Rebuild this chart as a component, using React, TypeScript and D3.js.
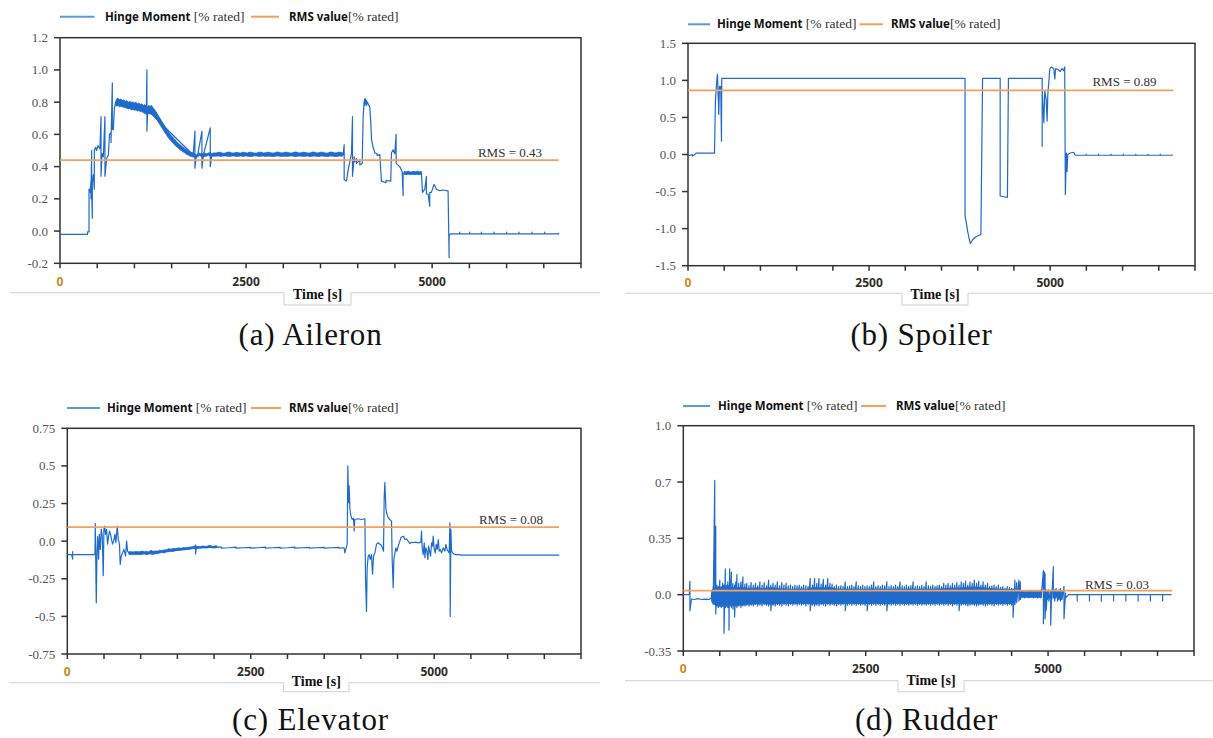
import React from 'react';
import * as d3 from 'd3';

// ---------- DATA ----------
// Line series rows: [time s, value, value, ...] (successive values at the same time)
// Band rows (dense noisy stretches drawn as a filled envelope): [time s, high, low]
const timeTickValues = [0, 500, 1000, 1500, 2000, 2500, 3000, 3500, 4000, 4500, 5000, 5500, 6000, 6500, 7000];
const timeTickLabels = [0, 2500, 5000];
const rmsEndTime = 6700;

const aileronYTicks = [-0.2, 0, 0.2, 0.4, 0.6, 0.8, 1.0, 1.2];
const aileronYLabels = ['-0.2', '0.0', '0.2', '0.4', '0.6', '0.8', '1.0', '1.2'];
const spoilerYTicks = [-1.5, -1.0, -0.5, 0, 0.5, 1.0, 1.5];
const spoilerYLabels = ['-1.5', '-1.0', '-0.5', '0.0', '0.5', '1.0', '1.5'];
const elevatorYTicks = [-0.75, -0.5, -0.25, 0, 0.25, 0.5, 0.75];
const elevatorYLabels = ['-0.75', '-0.5', '-0.25', '0.0', '0.25', '0.5', '0.75'];
const rudderYTicks = [-0.35, 0, 0.35, 0.7, 1.05];
const rudderYLabels = ['-0.35', '0.0', '0.35', '0.7', '1.0'];

const rmsValues = { aileron: 0.44, spoiler: 0.865, elevator: 0.093, rudder: 0.025 };
const rmsLabels = { aileron: 'RMS = 0.43', spoiler: 'RMS = 0.89', elevator: 'RMS = 0.08', rudder: 'RMS = 0.03' };

const aileronHinge: number[][] = [
  [0, -0.02], [370, -0.02, -0.005], [390, -0.005, 0.26], [405, 0.24], [416, 0.31, 0.2], [425, 0.5, 0.26],
  [434, 0.08, 0.3], [448, 0.35], [461, 0.26, 0.5], [479, 0.52], [492, 0.5], [510, 0.53], [537, 0.51],
  [551, 0.71, 0.34], [565, 0.48], [582, 0.46], [604, 0.71, 0.34], [627, 0.45], [649, 0.47], [665, 0.6],
  [685, 0.61, 0.55], [703, 0.92, 0.63], [716, 0.63], [730, 0.76], [747, 0.8], [1160, 0.75], [1168, 1.0, 0.62],
  [1178, 0.75], [1790, 0.472], [1813, 0.62, 0.39], [1830, 0.465], [1849, 0.47], [1907, 0.62, 0.39],
  [1925, 0.47], [2019, 0.64, 0.4], [2040, 0.475], [3790, 0.475], [3804, 0.475], [3818, 0.536, 0.32],
  [3849, 0.31], [3872, 0.38], [3894, 0.43], [3916, 0.48], [3930, 0.71, 0.34], [3952, 0.46], [3961, 0.43],
  [3983, 0.45, 0.42], [4028, 0.44, 0.41], [4060, 0.42], [4073, 0.71], [4086, 0.8], [4095, 0.82, 0.78],
  [4104, 0.82, 0.79], [4118, 0.81, 0.78], [4131, 0.8], [4150, 0.78], [4162, 0.77], [4176, 0.67], [4185, 0.57],
  [4207, 0.52], [4230, 0.485], [4260, 0.48, 0.47], [4297, 0.475], [4319, 0.31], [4380, 0.3, 0.315],
  [4444, 0.31], [4453, 0.485], [4476, 0.505], [4498, 0.48], [4516, 0.6, 0.42], [4565, 0.4], [4597, 0.37],
  [4610, 0.22, 0.36], [4623, 0.36], [4856, 0.36], [4870, 0.24], [4901, 0.26], [4923, 0.34, 0.23], [4946, 0.23],
  [4968, 0.155, 0.24], [4990, 0.24], [5026, 0.29], [5057, 0.26], [5102, 0.25], [5150, 0.255], [5214, 0.25],
  [5228, -0.165, -0.03], [5237, -0.02], [5250, -0.017], [5371, -0.017, -0.006, -0.017], [5505, -0.017, -0.006, -0.017],
  [5662, -0.017, -0.006, -0.017], [5832, -0.017, -0.006, -0.017], [6000, -0.017, -0.006, -0.017],
  [6166, -0.017, -0.006, -0.017], [6342, -0.017, -0.006, -0.017], [6512, -0.017, -0.006, -0.017], [6700, -0.017, -0.01],
];

const aileronBands: number[][][] = [
  [
    [747, 0.8, 0.78], [760, 0.82, 0.775], [780, 0.825, 0.78], [800, 0.815, 0.77], [820, 0.82, 0.775], [840, 0.81, 0.77],
    [860, 0.815, 0.768], [880, 0.805, 0.765], [900, 0.81, 0.762], [920, 0.8, 0.758], [940, 0.805, 0.76],
    [960, 0.798, 0.752], [980, 0.802, 0.755], [1000, 0.795, 0.75], [1020, 0.8, 0.752], [1040, 0.79, 0.745],
    [1060, 0.795, 0.748], [1080, 0.785, 0.74], [1100, 0.79, 0.742], [1120, 0.78, 0.735], [1140, 0.785, 0.73],
    [1160, 0.775, 0.725], [1175, 0.77, 0.725], [1190, 0.78, 0.73], [1210, 0.775, 0.725],
    [1230, 0.78, 0.73], [1250, 0.765, 0.72], [1270, 0.755, 0.71], [1290, 0.74, 0.7], [1310, 0.725, 0.685],
    [1330, 0.71, 0.67], [1350, 0.695, 0.655], [1370, 0.68, 0.64], [1390, 0.665, 0.625], [1410, 0.65, 0.61],
    [1430, 0.635, 0.597], [1450, 0.62, 0.583], [1470, 0.607, 0.572], [1490, 0.595, 0.56], [1510, 0.585, 0.55],
    [1530, 0.575, 0.54], [1550, 0.565, 0.53], [1570, 0.555, 0.522], [1590, 0.545, 0.515], [1610, 0.538, 0.505],
    [1630, 0.53, 0.5], [1650, 0.522, 0.493], [1670, 0.515, 0.487], [1690, 0.508, 0.48], [1710, 0.502, 0.474],
    [1730, 0.497, 0.47], [1750, 0.49, 0.465], [1770, 0.487, 0.462], [1790, 0.485, 0.46], [1813, 0.48, 0.458],
    [1830, 0.47, 0.455], [1849, 0.48, 0.46], [1870, 0.485, 0.47], [1890, 0.48, 0.465], [1907, 0.482, 0.462],
    [1925, 0.48, 0.46], [1947, 0.485, 0.465], [1970, 0.48, 0.465], [1995, 0.485, 0.47], [2019, 0.487, 0.465],
    [2040, 0.48, 0.465], [2059, 0.485, 0.465], [2100, 0.485, 0.465], [2130, 0.49, 0.466], [2160, 0.487, 0.463],
    [2190, 0.483, 0.466], [2220, 0.484, 0.466], [2250, 0.49, 0.465], [2280, 0.49, 0.462], [2310, 0.484, 0.466],
    [2340, 0.485, 0.466], [2370, 0.489, 0.463], [2400, 0.486, 0.464], [2430, 0.484, 0.466], [2460, 0.49, 0.463],
    [2490, 0.486, 0.466], [2520, 0.485, 0.465], [2550, 0.49, 0.463], [2580, 0.488, 0.462], [2610, 0.484, 0.467],
    [2640, 0.484, 0.466], [2670, 0.489, 0.463], [2700, 0.49, 0.465], [2730, 0.485, 0.466], [2760, 0.486, 0.463],
    [2790, 0.49, 0.465], [2820, 0.487, 0.465], [2850, 0.484, 0.463], [2880, 0.485, 0.462], [2910, 0.49, 0.466],
    [2940, 0.49, 0.466], [2970, 0.485, 0.463], [3000, 0.486, 0.464], [3030, 0.49, 0.465], [3060, 0.488, 0.463],
    [3090, 0.484, 0.466], [3120, 0.485, 0.466], [3150, 0.49, 0.463], [3180, 0.49, 0.462], [3210, 0.485, 0.466],
    [3240, 0.486, 0.465], [3270, 0.49, 0.463], [3300, 0.487, 0.464], [3330, 0.484, 0.466], [3360, 0.485, 0.462],
    [3390, 0.49, 0.465], [3420, 0.49, 0.466], [3450, 0.485, 0.463], [3480, 0.486, 0.463], [3510, 0.49, 0.466],
    [3540, 0.488, 0.465], [3570, 0.484, 0.463], [3600, 0.484, 0.462], [3630, 0.49, 0.466], [3660, 0.49, 0.465],
    [3690, 0.485, 0.463], [3720, 0.486, 0.463], [3750, 0.49, 0.466], [3780, 0.488, 0.465], [3800, 0.485, 0.466],
  ],
  [
    [4623, 0.37, 0.352], [4650, 0.368, 0.35], [4680, 0.372, 0.352], [4710, 0.366, 0.35], [4740, 0.37, 0.352],
    [4770, 0.368, 0.35], [4800, 0.372, 0.352], [4830, 0.368, 0.35], [4856, 0.37, 0.352],
  ],
];

const spoilerHinge: number[][] = [
  [0, -0.02], [30, -0.01], [60, 0.0, -0.02], [80, -0.01], [114, 0.018], [366, 0.018, 0.045], [379, 0.72],
  [398, 1.01], [407, 1.08], [416, 0.81], [425, 0.54], [434, 0.92], [443, 0.87], [452, 0.92], [462, 0.18],
  [466, 1.027], [3825, 1.027, -0.83], [3839, -0.9], [3862, -1.04], [3885, -1.15], [3898, -1.2], [3930, -1.15],
  [3976, -1.11], [4044, -1.08], [4053, -0.25], [4067, 1.027], [4310, 1.027, -0.56], [4410, -0.58],
  [4424, 1.027], [4890, 1.027, 0.11, 0.88], [4913, 0.43], [4926, 0.86], [4945, 0.74], [4958, 0.45],
  [4968, 0.81], [4981, 0.97], [4995, 1.15], [5013, 1.18], [5050, 1.16], [5064, 1.02], [5077, 1.16],
  [5118, 1.14], [5141, 1.12], [5164, 1.16], [5187, 1.13], [5201, 1.18], [5210, -0.54], [5224, 0.02],
  [5233, -0.23], [5242, 0.0], [5278, 0.02], [5324, 0.03], [5347, -0.01], [5498, -0.01, 0.005, -0.01],
  [5667, -0.01, 0.005, -0.01], [5840, -0.01, 0.005, -0.01], [6010, -0.01, 0.005, -0.01], [6183, -0.01, 0.005, -0.01],
  [6352, -0.01, 0.005, -0.01], [6521, -0.01, 0.005, -0.01], [6686, -0.01, 0.0],
];
const spoilerBands: number[][][] = [];

const elevatorHinge: number[][] = [
  [0, -0.089], [59, -0.089], [73, -0.12, -0.07, -0.089], [377, -0.089], [381, 0.118], [395, -0.41], [404, -0.08],
  [413, 0.03], [426, -0.12], [436, 0.045], [449, -0.055], [463, 0.08], [476, 0.035], [490, -0.23], [499, 0.078],
  [508, 0.1], [522, 0.045], [535, 0.078], [549, -0.02], [563, 0.033], [576, 0.067], [590, 0.045], [603, 0.01],
  [617, -0.02], [631, 0.0], [649, 0.045], [662, -0.01], [681, 0.1], [694, 0.01], [703, 0.0], [712, -0.033],
  [721, -0.155], [735, -0.1], [753, -0.078], [771, -0.055], [794, -0.1], [808, 0.0], [821, -0.067], [839, -0.078],
  [1000, -0.078], [1300, -0.068], [1738, -0.042], [1747, -0.025, -0.085], [1760, -0.042], [2033, -0.038],
  [2100, -0.04, -0.046], [2200, -0.044], [2300, -0.04, -0.047], [2400, -0.044],
  [2500, -0.041, -0.046], [2600, -0.044], [2700, -0.04, -0.047], [2800, -0.044], [2900, -0.041, -0.046],
  [3000, -0.044], [3100, -0.04, -0.047], [3200, -0.044], [3300, -0.041, -0.046], [3400, -0.044],
  [3500, -0.041, -0.046], [3600, -0.044], [3700, -0.042, -0.046], [3773, -0.044], [3782, -0.078],
  [3795, -0.055], [3814, -0.02], [3823, 0.5], [3832, 0.256], [3841, 0.367], [3850, 0.22], [3864, 0.167],
  [3882, 0.144], [3900, 0.153], [3909, 0.067], [3918, 0.144], [3964, 0.149], [4009, 0.144], [4055, 0.149],
  [4064, -0.256], [4077, -0.467], [4086, -0.178], [4100, -0.1], [4114, -0.089], [4127, -0.122], [4145, -0.089],
  [4159, -0.22], [4173, -0.1], [4191, -0.078], [4214, -0.02], [4236, -0.011], [4259, -0.02], [4282, -0.029],
  [4295, -0.044], [4309, -0.067], [4318, 0.289], [4327, 0.389], [4341, 0.222], [4350, 0.189], [4373, 0.156],
  [4395, 0.144], [4418, 0.133], [4427, -0.122], [4441, -0.31], [4450, -0.122], [4464, -0.078], [4477, -0.044],
  [4491, -0.067], [4509, -0.033], [4532, 0.0], [4545, 0.022], [4564, 0.029], [4582, 0.033], [4600, 0.011],
  [4623, 0.016], [4645, 0.0], [4668, -0.016], [4691, -0.007], [4714, -0.011], [4736, -0.007], [4782, -0.011],
  [4818, -0.007], [4827, 0.067], [4836, -0.044], [4850, -0.089], [4864, -0.011], [4873, -0.11], [4886, -0.044],
  [4900, -0.067], [4914, -0.122], [4923, -0.033], [4936, -0.067], [4950, -0.1], [4964, -0.011], [4977, -0.033],
  [4986, 0.033], [5000, -0.055], [5014, -0.078], [5027, -0.022], [5041, -0.055], [5055, 0.011], [5068, -0.067],
  [5082, -0.055], [5100, -0.078], [5123, -0.044], [5145, -0.067], [5159, -0.022], [5177, -0.06], [5191, -0.067],
  [5204, -0.078], [5214, 0.122], [5218, -0.5], [5227, 0.078], [5236, -0.067], [5259, -0.082], [5282, -0.089],
  [5350, -0.089], [5359, -0.093], [6704, -0.093],
];

const elevatorBands: number[][][] = [
  [
    [839, -0.07, -0.088], [870, -0.07, -0.09], [900, -0.072, -0.088], [930, -0.068, -0.09], [960, -0.07, -0.088],
    [990, -0.07, -0.09], [1020, -0.066, -0.087], [1050, -0.07, -0.085], [1080, -0.068, -0.09], [1110, -0.072, -0.086],
    [1140, -0.06, -0.085], [1170, -0.068, -0.088], [1200, -0.065, -0.084], [1230, -0.067, -0.083], [1261, -0.06, -0.078],
    [1290, -0.062, -0.076], [1320, -0.058, -0.078], [1350, -0.057, -0.072], [1380, -0.05, -0.07], [1410, -0.053, -0.068],
    [1443, -0.048, -0.068], [1480, -0.05, -0.063], [1510, -0.045, -0.062], [1550, -0.047, -0.06], [1590, -0.043, -0.058],
    [1624, -0.044, -0.056], [1660, -0.04, -0.055], [1700, -0.038, -0.05], [1738, -0.033, -0.05], [1780, -0.035, -0.048],
    [1806, -0.037, -0.048], [1850, -0.032, -0.045], [1890, -0.036, -0.046], [1942, -0.028, -0.042], [1980, -0.035, -0.045],
    [2033, -0.03, -0.045],
  ],
];

const rudderHinge: number[][] = [
  [0, 0.0], [82, 0.0], [91, 0.083, -0.1], [113, -0.027], [150, -0.03], [200, -0.025], [250, -0.03], [300, -0.028],
  [350, -0.03], [385, -0.02], [390, 0.02, -0.04], [410, 0.05, -0.06], [431, 0.71, -0.05], [445, 0.425, -0.12],
  [460, 0.06, -0.07], [480, 0.05, -0.08], [500, 0.09, -0.07], [520, 0.05, -0.08], [540, 0.07, -0.07],
  [558, 0.06, -0.24], [576, 0.16, -0.08], [595, 0.06, -0.07], [610, 0.08, -0.08], [626, 0.06, -0.22],
  [635, 0.16, -0.07], [658, 0.14, -0.08], [680, 0.07, -0.09], [703, 0.06, -0.14], [720, 0.08, -0.07],
  [735, 0.125, -0.08], [760, 0.07, -0.07], [790, 0.08, -0.08], [817, 0.11, -0.07], [845, 0.065, -0.07],
  [870, 0.07, -0.065], [900, 0.055, -0.07], [930, 0.075, -0.065], [960, 0.06, -0.07], [990, 0.07, -0.06],
  [1020, 0.055, -0.07], [1050, 0.08, -0.065], [1080, 0.06, -0.07], [1110, 0.075, -0.06], [1140, 0.055, -0.065],
  [1170, 0.09, -0.07], [1200, 0.06, -0.1], [1230, 0.07, -0.065], [1260, 0.06, -0.07], [1290, 0.08, -0.06],
  [1320, 0.055, -0.065], [1350, 0.075, -0.07], [1380, 0.06, -0.06], [1410, 0.07, -0.065], [1440, 0.055, -0.07],
  [1470, 0.06, -0.06], [1500, 0.05, -0.065], [1530, 0.06, -0.06], [1560, 0.055, -0.065], [1590, 0.06, -0.06],
  [1620, 0.05, -0.065], [1650, 0.06, -0.06], [1680, 0.055, -0.07], [1710, 0.05, -0.06], [1740, 0.1, -0.1],
  [1770, 0.06, -0.065], [1800, 0.1, -0.07], [1830, 0.07, -0.065], [1860, 0.1, -0.07], [1890, 0.065, -0.06],
  [1920, 0.095, -0.065], [1950, 0.06, -0.07], [1980, 0.1, -0.06], [2010, 0.07, -0.065], [2040, 0.065, -0.06],
  [2070, 0.05, -0.065], [2100, 0.06, -0.07], [2130, 0.05, -0.06], [2160, 0.055, -0.065], [2190, 0.05, -0.06],
  [2220, 0.08, -0.1], [2250, 0.05, -0.065], [2280, 0.055, -0.06], [2310, 0.06, -0.065], [2340, 0.05, -0.06],
  [2370, 0.08, -0.065], [2400, 0.055, -0.06], [2430, 0.05, -0.065], [2460, 0.06, -0.06], [2490, 0.05, -0.065],
  [2520, 0.055, -0.1], [2550, 0.05, -0.06], [2580, 0.06, -0.065], [2610, 0.08, -0.06], [2640, 0.05, -0.065],
  [2670, 0.055, -0.06], [2700, 0.05, -0.065], [2730, 0.06, -0.06], [2760, 0.055, -0.065], [2790, 0.08, -0.1],
  [2820, 0.05, -0.06], [2850, 0.055, -0.065], [2880, 0.05, -0.06], [2910, 0.06, -0.065], [2940, 0.05, -0.06],
  [2970, 0.08, -0.065], [3000, 0.055, -0.06], [3030, 0.05, -0.065], [3060, 0.06, -0.06], [3090, 0.05, -0.065],
  [3120, 0.055, -0.06], [3150, 0.08, -0.065], [3180, 0.05, -0.06], [3210, 0.055, -0.065], [3240, 0.05, -0.06],
  [3270, 0.06, -0.065], [3300, 0.05, -0.06], [3330, 0.08, -0.065], [3360, 0.055, -0.06], [3390, 0.05, -0.065],
  [3420, 0.06, -0.06], [3450, 0.05, -0.065], [3480, 0.055, -0.06], [3510, 0.06, -0.065], [3540, 0.05, -0.06],
  [3570, 0.07, -0.065], [3600, 0.06, -0.06], [3630, 0.07, -0.065], [3660, 0.055, -0.06], [3690, 0.07, -0.07],
  [3720, 0.06, -0.06], [3750, 0.075, -0.065], [3780, 0.06, -0.1], [3810, 0.08, -0.065], [3840, 0.07, -0.06],
  [3870, 0.085, -0.065], [3900, 0.06, -0.07], [3930, 0.08, -0.065], [3960, 0.07, -0.06], [3990, 0.09, -0.065],
  [4020, 0.07, -0.07], [4050, 0.085, -0.065], [4080, 0.06, -0.06], [4110, 0.08, -0.065], [4140, 0.06, -0.07],
  [4170, 0.07, -0.065], [4200, 0.05, -0.06], [4230, 0.055, -0.065], [4260, 0.06, -0.07], [4290, 0.05, -0.06],
  [4320, 0.06, -0.065], [4350, 0.045, -0.06], [4380, 0.05, -0.065], [4410, 0.04, -0.06], [4440, 0.05, -0.065],
  [4470, 0.045, -0.06], [4500, 0.04, -0.065], [4520, 0.035, -0.14], [4545, 0.09, -0.06], [4570, 0.075, -0.05],
  [4600, 0.09, -0.04], [4620, 0.08, -0.03], [4650, 0.02, -0.015], [4680, 0.015, -0.02], [4710, 0.02, -0.015],
  [4740, 0.015, -0.02], [4770, 0.02, -0.015], [4800, 0.015, -0.02], [4830, 0.02, -0.015], [4860, 0.015, -0.02],
  [4890, 0.02, -0.015], [4905, 0.03, -0.02], [4936, 0.15, -0.18], [4950, 0.14, -0.04], [4959, 0.13, -0.15],
  [4973, 0.03, -0.1], [4990, 0.02, -0.03], [5010, 0.03, -0.04], [5036, 0.02, -0.19], [5050, 0.03, -0.03],
  [5072, 0.175, -0.02], [5090, 0.03, -0.04], [5110, 0.04, -0.02], [5130, 0.02, -0.04], [5150, 0.03, -0.03],
  [5170, 0.04, -0.04], [5190, 0.02, -0.03], [5218, 0.05, -0.15], [5240, 0.01, -0.02], [5280, 0.0],
  [5399, 0.0, -0.04, 0.0], [5567, 0.0, -0.04, 0.0], [5730, 0.0, -0.04, 0.0], [5898, 0.0, -0.04, 0.0],
  [6066, 0.0, -0.04, 0.0], [6234, 0.0, -0.04, 0.0], [6402, 0.0, -0.04, 0.0], [6570, 0.0, -0.04, 0.0], [6692, 0.0],
];

const rudderBands: number[][][] = [
  [
    [395, 0.03, -0.05], [450, 0.045, -0.068], [520, 0.04, -0.072], [600, 0.048, -0.07], [700, 0.042, -0.068],
    [800, 0.045, -0.065], [900, 0.038, -0.06], [1000, 0.042, -0.058], [1100, 0.036, -0.057], [1200, 0.044, -0.06],
    [1300, 0.038, -0.056], [1400, 0.035, -0.055], [1500, 0.033, -0.055], [1600, 0.036, -0.054], [1700, 0.034, -0.055],
    [1800, 0.045, -0.058], [1900, 0.042, -0.056], [2000, 0.046, -0.055], [2100, 0.036, -0.056], [2200, 0.033, -0.055],
    [2300, 0.035, -0.054], [2400, 0.034, -0.055], [2500, 0.033, -0.056], [2600, 0.036, -0.054], [2700, 0.034, -0.055],
    [2800, 0.033, -0.055], [2900, 0.035, -0.054], [3000, 0.034, -0.055], [3100, 0.036, -0.056], [3200, 0.033, -0.054],
    [3300, 0.035, -0.055], [3400, 0.034, -0.055], [3500, 0.036, -0.054], [3600, 0.038, -0.055], [3700, 0.04, -0.056],
    [3800, 0.042, -0.056], [3900, 0.046, -0.057], [4000, 0.048, -0.058], [4100, 0.045, -0.056], [4200, 0.038, -0.055],
    [4300, 0.036, -0.055], [4400, 0.033, -0.055], [4520, 0.03, -0.055], [4560, 0.035, -0.035],
  ],
  [
    [4625, 0.02, -0.015], [4700, 0.018, -0.017], [4800, 0.02, -0.016], [4900, 0.018, -0.017],
  ],
];

// ---------- STYLE / LAYOUT ----------
const BLUE = '#1f6bcb';
const LEG_BLUE = '#5b9bd5';
const ORANGE = '#f5a05c';
const AXIS = '#333';

type Layout = {
  x0: number; x1: number; y0: number; y1: number;
  legY: number; legBlue: [number, number]; legText1: number; legOrange: [number, number]; legText2: number;
  xLabY: number;
  rule: { y: number; x0: number; x1: number; bx0: number; bx1: number; by1: number; textX: number; textY: number };
  rmsLabel: { x: number; y: number };
  caption: { x: number; y: number };
};

type PanelDef = {
  id: string; data: number[][]; bands: number[][][]; rms: number; rmsText: string; yDomain: [number, number];
  yTicks: number[]; yLabels: string[]; caption: string; layout: Layout;
};

const panels: PanelDef[] = [
  {
    id: 'a', data: aileronHinge, bands: aileronBands, rms: rmsValues.aileron, rmsText: rmsLabels.aileron, yDomain: [-0.2, 1.2],
    yTicks: aileronYTicks, yLabels: aileronYLabels, caption: '(a) Aileron',
    layout: {
      x0: 60, x1: 581, y0: 37.7, y1: 263.3, legY: 16.7, legBlue: [60, 94.5], legText1: 105, legOrange: [251, 279], legText2: 289,
      xLabY: 285.5, rule: { y: 292.7, x0: 9.6, x1: 600, bx0: 284, bx1: 351, by1: 305, textX: 317.5, textY: 298.5 },
      rmsLabel: { x: 542, y: 157 }, caption: { x: 310.5, y: 345 },
    },
  },
  {
    id: 'b', data: spoilerHinge, bands: spoilerBands, rms: rmsValues.spoiler, rmsText: rmsLabels.spoiler, yDomain: [-1.5, 1.5],
    yTicks: spoilerYTicks, yLabels: spoilerYLabels, caption: '(b) Spoiler',
    layout: {
      x0: 688, x1: 1195, y0: 43.3, y1: 265.7, legY: 24.3, legBlue: [688, 710], legText1: 717, legOrange: [859.5, 883], legText2: 891,
      xLabY: 287, rule: { y: 293.3, x0: 625, x1: 1213, bx0: 902, bx1: 968, by1: 305, textX: 935, textY: 299 },
      rmsLabel: { x: 1156.5, y: 85.5 }, caption: { x: 921.5, y: 345 },
    },
  },
  {
    id: 'c', data: elevatorHinge, bands: elevatorBands, rms: rmsValues.elevator, rmsText: rmsLabels.elevator, yDomain: [-0.75, 0.75],
    yTicks: elevatorYTicks, yLabels: elevatorYLabels, caption: '(c) Elevator',
    layout: {
      x0: 67.3, x1: 581, y0: 428.3, y1: 654, legY: 408, legBlue: [67, 100], legText1: 107, legOrange: [251, 281], legText2: 289,
      xLabY: 675.5, rule: { y: 682.7, x0: 9.6, x1: 600, bx0: 283.6, bx1: 349, by1: 691.7, textX: 316.3, textY: 685.5 },
      rmsLabel: { x: 543, y: 524 }, caption: { x: 310.5, y: 730 },
    },
  },
  {
    id: 'd', data: rudderHinge, bands: rudderBands, rms: rmsValues.rudder, rmsText: rmsLabels.rudder, yDomain: [-0.35, 1.05],
    yTicks: rudderYTicks, yLabels: rudderYLabels, caption: '(d) Rudder',
    layout: {
      x0: 683.3, x1: 1194, y0: 425.7, y1: 651, legY: 406, legBlue: [683, 710], legText1: 718, legOrange: [861, 886], legText2: 896,
      xLabY: 672.5, rule: { y: 680.7, x0: 625, x1: 1213, bx0: 898, bx1: 964, by1: 691.7, textX: 931, textY: 685 },
      rmsLabel: { x: 1149, y: 589 }, caption: { x: 926.5, y: 730 },
    },
  },
];

function toPoints(rows: number[][]): [number, number][] {
  const pts: [number, number][] = [];
  rows.forEach((r) => {
    for (let i = 1; i < r.length; i++) pts.push([r[0], r[i]]);
  });
  return pts;
}

const SANS = "'Noto Sans', 'Open Sans', sans-serif";
const SERIF = "'Liberation Serif', 'DejaVu Serif', serif";

function Panel({ p }: { p: PanelDef }) {
  const L = p.layout;
  const x = d3.scaleLinear().domain([0, 7000]).range([L.x0, L.x1]);
  const y = d3.scaleLinear().domain(p.yDomain).range([L.y1, L.y0]);
  const line = d3.line<[number, number]>().x((d) => x(d[0])).y((d) => y(d[1]));
  const area = d3.area<number[]>().x((d) => x(d[0])).y0((d) => y(d[2])).y1((d) => y(d[1]));
  const pts = toPoints(p.data);
  const r = L.rule;
  return (
    <g>
      {/* legend */}
      <line x1={L.legBlue[0]} x2={L.legBlue[1]} y1={L.legY} y2={L.legY} stroke={LEG_BLUE} strokeWidth={2} />
      <text x={L.legText1} y={L.legY + 4} fontSize={11.5} fill="#111">
        <tspan fontFamily={SANS} fontWeight="bold">Hinge Moment</tspan>
        <tspan fontFamily={SERIF} fontSize={13.5} fill="#333"> [% rated]</tspan>
      </text>
      <line x1={L.legOrange[0]} x2={L.legOrange[1]} y1={L.legY} y2={L.legY} stroke={ORANGE} strokeWidth={2} />
      <text x={L.legText2} y={L.legY + 4} fontSize={11.5} fill="#111">
        <tspan fontFamily={SANS} fontWeight="bold">RMS value</tspan>
        <tspan fontFamily={SERIF} fontSize={13.5} fill="#333">[% rated]</tspan>
      </text>

      {/* frame */}
      <rect x={L.x0} y={L.y0} width={L.x1 - L.x0} height={L.y1 - L.y0} fill="white" stroke={AXIS} strokeWidth={1.5} />

      {/* y ticks */}
      {p.yTicks.map((t, i) => (
        <g key={'y' + i}>
          <line x1={L.x0 - 6} x2={L.x0} y1={y(t)} y2={y(t)} stroke={AXIS} strokeWidth={1.5} />
          <text x={L.x0 - 12} y={y(t) + 4.5} textAnchor="end" fontFamily={SERIF} fontSize={13} fill="#555">
            {p.yLabels[i]}
          </text>
        </g>
      ))}

      {/* x ticks */}
      {timeTickValues.map((t) => (
        <line key={'x' + t} x1={x(t)} x2={x(t)} y1={L.y1} y2={L.y1 + 5} stroke={AXIS} strokeWidth={1.5} />
      ))}
      {timeTickLabels.map((t) => (
        <text key={'xl' + t} x={x(t)} y={L.xLabY} textAnchor="middle" fontFamily={SANS} fontWeight="bold" fontSize={12}
          fill={t === 0 ? '#c98a1e' : '#2f2b27'}>
          {t}
        </text>
      ))}

      {/* data */}
      {p.bands.map((b, i) => (
        <path key={'band' + i} d={area(b) || ''} fill={BLUE} stroke={BLUE} strokeWidth={0.8} strokeLinejoin="round" />
      ))}
      <path d={line(pts) || ''} fill="none" stroke={BLUE} strokeWidth={1.2} strokeLinejoin="round" />
      <line x1={x(0)} x2={x(rmsEndTime)} y1={y(p.rms)} y2={y(p.rms)} stroke={ORANGE} strokeWidth={1.8} />
      <text x={L.rmsLabel.x} y={L.rmsLabel.y} textAnchor="end" fontFamily={SERIF} fontSize={13} fill="#333">
        {p.rmsText}
      </text>

      {/* axis title with notch */}
      <path
        d={`M${r.x0},${r.y} L${r.bx0},${r.y} L${r.bx0},${r.by1} L${r.bx1},${r.by1} L${r.bx1},${r.y} L${r.x1},${r.y}`}
        fill="none" stroke="#cfcfcf" strokeWidth={1}
      />
      <text x={r.textX} y={r.textY} textAnchor="middle" fontFamily={SERIF} fontWeight="bold" fontSize={14} fill="#111">
        Time [s]
      </text>

      {/* caption */}
      <text x={L.caption.x} y={L.caption.y} textAnchor="middle" fontFamily={SERIF} fontSize={31} letterSpacing={0.8} fill="#111">
        {p.caption}
      </text>
    </g>
  );
}

export default function App() {
  return (
    <svg width={1213} height={738} viewBox="0 0 1213 738"
      style={{ position: 'absolute', left: 0, top: 0, display: 'block', background: 'white' }}>
      <rect x={0} y={0} width={1213} height={738} fill="white" />
      {panels.map((p) => (
        <Panel key={p.id} p={p} />
      ))}
    </svg>
  );
}
